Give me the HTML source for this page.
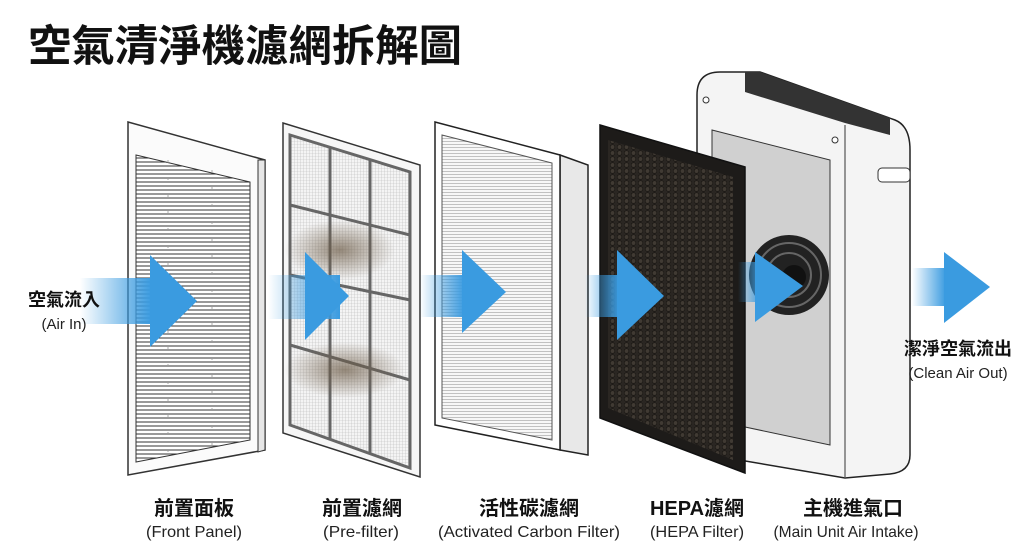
<!DOCTYPE html>
<html><head><meta charset="utf-8"><style>
html,body{margin:0;padding:0;background:#fff;}
svg{display:block;}
.cn{font-family:"Liberation Sans","Noto Sans CJK TC",sans-serif;font-weight:bold;fill:#111;}
.en{font-family:"Liberation Sans","Noto Sans CJK TC",sans-serif;fill:#222;}
</style></head><body>
<svg width="1024" height="559" viewBox="0 0 1024 559" xmlns="http://www.w3.org/2000/svg">
<defs>
<pattern id="slat" width="20" height="8" patternUnits="userSpaceOnUse"><rect width="20" height="8" fill="#fff"/><path d="M0 2H20M0 6H20" stroke="#333" stroke-width="1.1"/></pattern>
<pattern id="mesh" width="3" height="3" patternUnits="userSpaceOnUse"><rect width="3" height="3" fill="#f4f4f4"/><path d="M0 0H3M0 0V3" stroke="#bbb" stroke-width="0.6"/></pattern>
<pattern id="pleat" width="4" height="3" patternUnits="userSpaceOnUse"><rect width="4" height="3" fill="#f7f7f7"/><path d="M0 0.5H4" stroke="#aaa" stroke-width="0.7"/></pattern>
<pattern id="hex" width="7" height="6" patternUnits="userSpaceOnUse"><rect width="7" height="6" fill="#2a2622"/><circle cx="3.5" cy="3" r="2.3" fill="#403a33" stroke="#15120f" stroke-width="0.6"/></pattern>
<linearGradient id="tail" x1="0" x2="1"><stop offset="0" stop-color="#3a9be0" stop-opacity="0"/><stop offset="1" stop-color="#3a9be0"/></linearGradient>
<radialGradient id="dust"><stop offset="0" stop-color="#6b5a45" stop-opacity="0.7"/><stop offset="1" stop-color="#6b5a45" stop-opacity="0"/></radialGradient>
</defs>
<rect width="1024" height="559" fill="#fff"/>
<text x="28" y="61" class="cn" font-size="43" textLength="434" lengthAdjust="spacingAndGlyphs">空氣清淨機濾網拆解圖</text>

<!-- Front panel -->
<polygon points="128,122 265,160 265,450 128,475" fill="#fbfbfb" stroke="#333" stroke-width="1.5"/>
<polygon points="136,155 250,182 250,440 136,462" fill="url(#slat)" stroke="#333"/>
<path d="M168,160 V455 M212,170 V447" stroke="#999" stroke-width="0.8" stroke-dasharray="3 14"/>
<polygon points="258,160 265,160 265,450 258,452" fill="#e6e6e6" stroke="#333"/>

<!-- Pre-filter -->
<polygon points="283,123 420,165 420,477 283,433" fill="#f6f6f6" stroke="#333" stroke-width="1.5"/>
<polygon points="290,135 410,172 410,468 290,425" fill="url(#mesh)" stroke="#444"/>
<g stroke="#666" stroke-width="3" fill="none">
<path d="M290,135 L410,172 L410,468 L290,425 Z"/>
<path d="M330,147 V440 M370,159 V454"/>
<path d="M290,205 L410,235 M290,275 L410,300 M290,345 L410,380"/>
</g>
<ellipse cx="340" cy="250" rx="55" ry="30" fill="url(#dust)"/>
<ellipse cx="345" cy="370" rx="60" ry="28" fill="url(#dust)"/>

<!-- Carbon filter -->
<polygon points="560,155 588,165 588,455 560,450" fill="#e8e8e8" stroke="#222" stroke-width="1.5"/>
<polygon points="435,122 560,155 560,450 435,425" fill="#fff" stroke="#222" stroke-width="1.5"/>
<polygon points="442,135 552,163 552,440 442,418" fill="url(#pleat)" stroke="#555"/>

<!-- Main unit -->
<path d="M697,95 Q697,72 720,72 L760,72 L895,120 Q910,126 910,150 L910,455 Q910,472 890,474 L845,478 L710,455 Q697,452 697,440 Z" fill="#f4f4f4" stroke="#222" stroke-width="1.5"/>
<path d="M845,125 L845,478" stroke="#555" stroke-width="1.2"/>
<polygon points="745,72 760,72 890,118 890,135 845,123 745,92" fill="#333"/>
<polygon points="712,130 830,160 830,445 712,420" fill="#d0d0d0" stroke="#333"/>
<circle cx="789" cy="275" r="40" fill="#222"/>
<circle cx="789" cy="275" r="32" fill="none" stroke="#666" stroke-width="2"/>
<circle cx="789" cy="275" r="22" fill="none" stroke="#666" stroke-width="2"/>
<circle cx="794" cy="277" r="12" fill="#111"/>
<rect x="878" y="168" width="32" height="14" rx="4" fill="#fff" stroke="#333"/>
<circle cx="706" cy="100" r="3" fill="#fff" stroke="#333"/>
<circle cx="835" cy="140" r="3" fill="#fff" stroke="#333"/>

<!-- HEPA -->
<polygon points="600,125 745,167 745,473 600,418" fill="#1d1b19" stroke="#111" stroke-width="1.5"/>
<polygon points="608,140 733,177 733,460 608,408" fill="url(#hex)"/>

<!-- Arrows -->
<g>
<rect x="80" y="278" width="72" height="46" fill="url(#tail)"/><polygon points="150,255 197,301 150,347" fill="#3a9be0"/>
<rect x="268" y="275" width="72" height="44" fill="url(#tail)"/><polygon points="305,252 349,296 305,340" fill="#3a9be0"/>
<rect x="420" y="275" width="45" height="42" fill="url(#tail)"/><polygon points="462,250 506,292 462,333" fill="#3a9be0"/>
<rect x="585" y="275" width="35" height="42" fill="url(#tail)"/><polygon points="617,250 664,296 617,340" fill="#3a9be0"/>
<rect x="738" y="262" width="20" height="40" fill="url(#tail)" opacity="0.8"/><polygon points="755,252 803,286 755,322" fill="#3a9be0"/>
<rect x="912" y="268" width="34" height="38" fill="url(#tail)"/><polygon points="944,252 990,287 944,323" fill="#3a9be0"/>
</g>

<!-- Labels -->
<text x="64" y="306" class="cn" font-size="18" text-anchor="middle">空氣流入</text>
<text x="64" y="329" class="en" font-size="15" text-anchor="middle">(Air In)</text>
<text x="958" y="355" class="cn" font-size="18" text-anchor="middle">潔淨空氣流出</text>
<text x="958" y="378" class="en" font-size="15" text-anchor="middle">(Clean Air Out)</text>

<text x="194" y="515" class="cn" font-size="20" text-anchor="middle">前置面板</text>
<text x="194" y="537" class="en" font-size="16" text-anchor="middle" textLength="96" lengthAdjust="spacingAndGlyphs">(Front Panel)</text>
<text x="362" y="515" class="cn" font-size="20" text-anchor="middle">前置濾網</text>
<text x="361" y="537" class="en" font-size="16" text-anchor="middle" textLength="76" lengthAdjust="spacingAndGlyphs">(Pre-filter)</text>
<text x="529" y="515" class="cn" font-size="20" text-anchor="middle">活性碳濾網</text>
<text x="529" y="537" class="en" font-size="16" text-anchor="middle" textLength="182" lengthAdjust="spacingAndGlyphs">(Activated Carbon Filter)</text>
<text x="697" y="515" class="cn" font-size="20" text-anchor="middle">HEPA濾網</text>
<text x="697" y="537" class="en" font-size="16" text-anchor="middle" textLength="94" lengthAdjust="spacingAndGlyphs">(HEPA Filter)</text>
<text x="853" y="515" class="cn" font-size="20" text-anchor="middle">主機進氣口</text>
<text x="846" y="537" class="en" font-size="16" text-anchor="middle" textLength="145" lengthAdjust="spacingAndGlyphs">(Main Unit Air Intake)</text>
</svg>
</body></html>
